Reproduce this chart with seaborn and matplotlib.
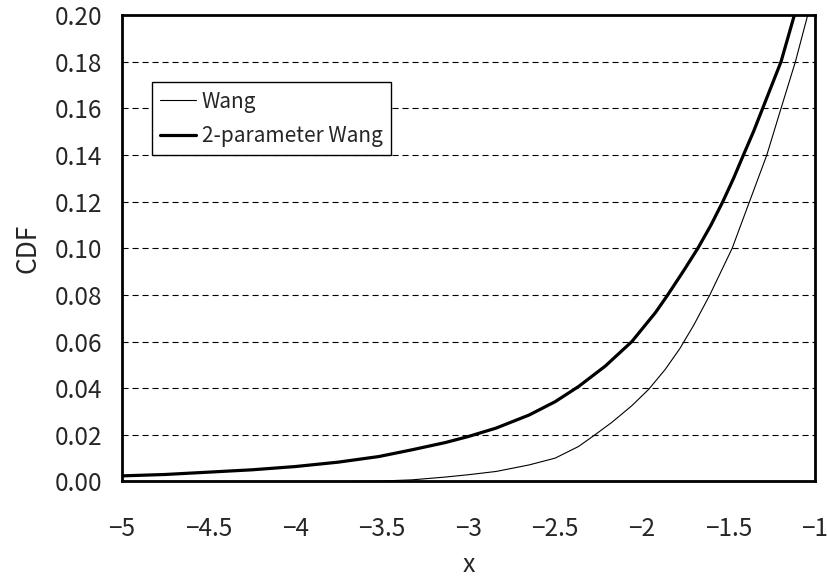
import seaborn as sns
import pandas as pd
import matplotlib.pyplot as plt

# values
wang_x = [-5.0, -3.7, -3.5, -3.325, -3.133, -3.0, -2.84, -2.65, -2.5, -2.365,
          -2.27, -2.17, -2.057, -1.96, -1.865, -1.78, -1.70, -1.607,
          -1.478, -1.378, -1.278, -1.196, -1.113, -1.042]
wang_y = [0.0, 0.0, 0.0002, 0.0007, 0.0019, 0.0029, 0.0043, 0.0071, 0.010, 0.0150,
          0.020, 0.0255, 0.0325, 0.0395, 0.048, 0.057, 0.067, 0.080,
          0.100, 0.120, 0.140, 0.160, 0.180, 0.200]

wang2_x = [-5.0, -4.75, -4.5, -4.25, -4.0, -3.75, -3.517, -3.325, -3.133, -3.0,
           -2.84, -2.65, -2.5, -2.365, -2.21, -2.057, -1.92, -1.85,
           -1.757, -1.676, -1.60, -1.532, -1.47, -1.413, -1.355, -1.302,
           -1.196, -1.119]
wang2_y = [0.0024, 0.0030, 0.0040, 0.0050, 0.0064, 0.0083, 0.0107, 0.0136, 0.0167, 0.0193,
           0.0229, 0.0285, 0.0342, 0.0407, 0.0495, 0.060, 0.0725, 0.080,
           0.0905, 0.100, 0.110, 0.120, 0.130, 0.140, 0.150, 0.160,
           0.180, 0.200]

x_ticks = [-5, -4.5, -4, -3.5, -3, -2.5, -2, -1.5, -1]
y_ticks = [0.00, 0.02, 0.04, 0.06, 0.08, 0.10, 0.12, 0.14, 0.16, 0.18, 0.20]

df_wang = pd.DataFrame({'x': wang_x, 'CDF': wang_y})
df_wang2 = pd.DataFrame({'x': wang2_x, 'CDF': wang2_y})

sns.set_style('white')
plt.rcParams['font.family'] = ['Noto Sans CJK JP', 'DejaVu Sans']

fig = plt.figure(figsize=(8.28, 5.78), dpi=100)
ax = fig.add_axes([0.1473, 0.167, 0.837, 0.807])

# dashed horizontal grid
for yv in y_ticks[1:-1]:
    ax.axhline(yv, color='black', lw=0.8, ls=(0, (5.5, 3.5)), zorder=1)

sns.lineplot(x='x', y='CDF', data=df_wang, color='black', linewidth=0.8,
             label='Wang', ax=ax, zorder=3)
sns.lineplot(x='x', y='CDF', data=df_wang2, color='black', linewidth=2.3,
             label='2-parameter Wang', ax=ax, zorder=3)

ax.set_xlim(-5, -1)
ax.set_ylim(0, 0.2)
ax.set_xticks(x_ticks)
ax.set_xticklabels(['\u22125', '\u22124.5', '\u22124', '\u22123.5', '\u22123',
                    '\u22122.5', '\u22122', '\u22121.5', '\u22121'])
ax.set_yticks(y_ticks)
ax.set_yticklabels(['%.2f' % v for v in y_ticks])

ax.tick_params(axis='x', direction='in', length=6, width=1, pad=25, labelsize=17.5)
ax.tick_params(axis='y', direction='in', length=4, width=1, pad=14, labelsize=17.5)

for sp in ax.spines.values():
    sp.set_color('black')
    sp.set_linewidth(2)

ax.set_xlabel('x', fontsize=18, labelpad=7)
ax.set_ylabel('CDF', fontsize=19, labelpad=10)

leg = ax.legend(loc='upper left', bbox_to_anchor=(0.043, 0.856), borderaxespad=0,
                fontsize=15, frameon=True, fancybox=False, shadow=False,
                handlelength=1.7, handletextpad=0.3, borderpad=0.4,
                labelspacing=0.6)
leg.get_frame().set_edgecolor('black')
leg.get_frame().set_linewidth(1)
leg.get_frame().set_alpha(1)

plt.savefig('out.png', dpi=100)
